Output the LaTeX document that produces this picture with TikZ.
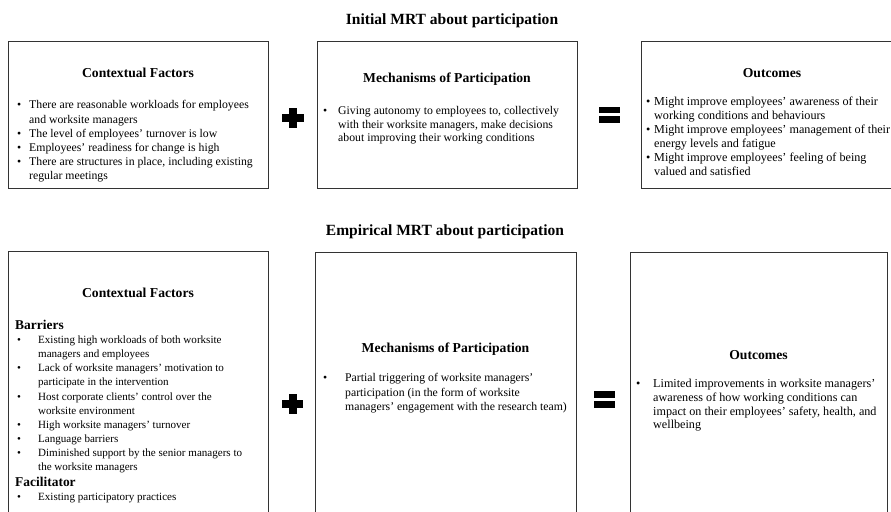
\documentclass[tikz,border=0pt]{standalone}
\usepackage{fontspec}
\setmainfont{Liberation Serif}
\newlength\bw
\newcommand\BUL{\makebox[\bw][l]{\textbullet}}
\newcommand\CON{\hspace*{\bw}}
\tikzset{
  box/.style={draw=black!80, line width=0.8bp, rectangle, inner sep=0pt},
  head/.style={anchor=base, inner sep=0pt, font=\bfseries\fontsize{13.7}{16}\selectfont},
  subhead/.style={anchor=base west, inner sep=0pt, font=\bfseries\fontsize{13.5}{16}\selectfont},
  ttl/.style={anchor=base, inner sep=0pt, font=\bfseries\fontsize{15.6}{18}\selectfont},
  body/.style={anchor=north west, inner sep=0pt, align=left},
  symb/.style={fill=black},
}
\begin{document}
\begin{tikzpicture}[x=1bp,y=-1bp]
\useasboundingbox (0,0) rectangle (891,512);
\clip (0,0) rectangle (891,512);

% titles
\node[ttl] (t1) at (452,25) {Initial MRT about participation};
\node[ttl] (t2) at (445,236) {Empirical MRT about participation};

% top row boxes
\node[box, minimum width=260bp, minimum height=147bp] (cf1) at (138,114.5) {};
\node[box, minimum width=260bp, minimum height=147bp] (mp1) at (447,114.5) {};
\node[box, minimum width=262bp, minimum height=147bp] (oc1) at (772,114.5) {};

% bottom row boxes
\node[box, minimum width=260bp, minimum height=279bp] (cf2) at (138,390.5) {};
\node[box, minimum width=261bp, minimum height=278bp] (mp2) at (445.5,391) {};
\node[box, minimum width=257bp, minimum height=278bp] (oc2) at (758.5,391) {};

% headings
\node[head] (cf1h) at (138,77.5) {Contextual Factors};
\node[head] (mp1h) at (447,82.5) {Mechanisms of Participation};
\node[head] (oc1h) at (772,77.5) {Outcomes};
\node[head] (cf2h) at (138,297.5) {Contextual Factors};
\node[head] (mp2h) at (445.5,352.5) {Mechanisms of Participation};
\node[head] (oc2h) at (758.5,359.5) {Outcomes};

% bodies
\node[body, font={\fontsize{11.8}{14.1}\selectfont\setlength\bw{12bp}}] (cf1b) at (17,100.5) {%
\BUL There are reasonable workloads for employees\\
\CON and worksite managers\\
\BUL The level of employees’ turnover is low\\
\BUL Employees’ readiness for change is high\\
\BUL There are structures in place, including existing\\
\CON regular meetings};

\node[body, font={\fontsize{11.8}{13.6}\selectfont\setlength\bw{15bp}}] (mp1b) at (323,106.5) {%
\BUL Giving autonomy to employees to, collectively\\
\CON with their worksite managers, make decisions\\
\CON about improving their working conditions};

\node[body, font={\fontsize{12.2}{14.1}\selectfont\setlength\bw{8bp}}] (oc1b) at (646,97) {%
\BUL Might improve employees’ awareness of their\\
\CON working conditions and behaviours\\
\BUL Might improve employees’ management of their\\
\CON energy levels and fatigue\\
\BUL Might improve employees’ feeling of being\\
\CON valued and satisfied};

\node[subhead] (bar) at (15,329.5) {Barriers};
\node[body, font={\fontsize{11.1}{14.2}\selectfont\setlength\bw{21bp}}] (cf2b) at (17,335.5) {%
\BUL Existing high workloads of both worksite\\
\CON managers and employees\\
\BUL Lack of worksite managers’ motivation to\\
\CON participate in the intervention\\
\BUL Host corporate clients’ control over the\\
\CON worksite environment\\
\BUL High worksite managers’ turnover\\
\BUL Language barriers\\
\BUL Diminished support by the senior managers to\\
\CON the worksite managers};
\node[subhead] (fac) at (15,486) {Facilitator};
\node[body, font={\fontsize{11.1}{14.2}\selectfont\setlength\bw{21bp}}] (cf2c) at (17,492.5) {%
\BUL Existing participatory practices};

\node[body, font={\fontsize{11.8}{14.2}\selectfont\setlength\bw{22bp}}] (mp2b) at (323,373.5) {%
\BUL Partial triggering of worksite managers’\\
\CON participation (in the form of worksite\\
\CON managers’ engagement with the research team)};

\node[body, font={\fontsize{12.2}{14}\selectfont\setlength\bw{17bp}}] (oc2b) at (636,378.5) {%
\BUL Limited improvements in worksite managers’\\
\CON awareness of how working conditions can\\
\CON impact on their employees’ safety, health, and\\
\CON wellbeing};

% plus and equals symbols
\fill[symb] (282,114) rectangle (304,122);
\fill[symb] (289,108) rectangle (297,128);
\fill[symb] (599,107) rectangle (620,113.5);
\fill[symb] (599,116) rectangle (620,123);

\fill[symb] (282,400) rectangle (303,408);
\fill[symb] (289,394) rectangle (296.5,414);
\fill[symb] (594,391) rectangle (615,398);
\fill[symb] (594,401) rectangle (615,408);
\end{tikzpicture}
\end{document}
